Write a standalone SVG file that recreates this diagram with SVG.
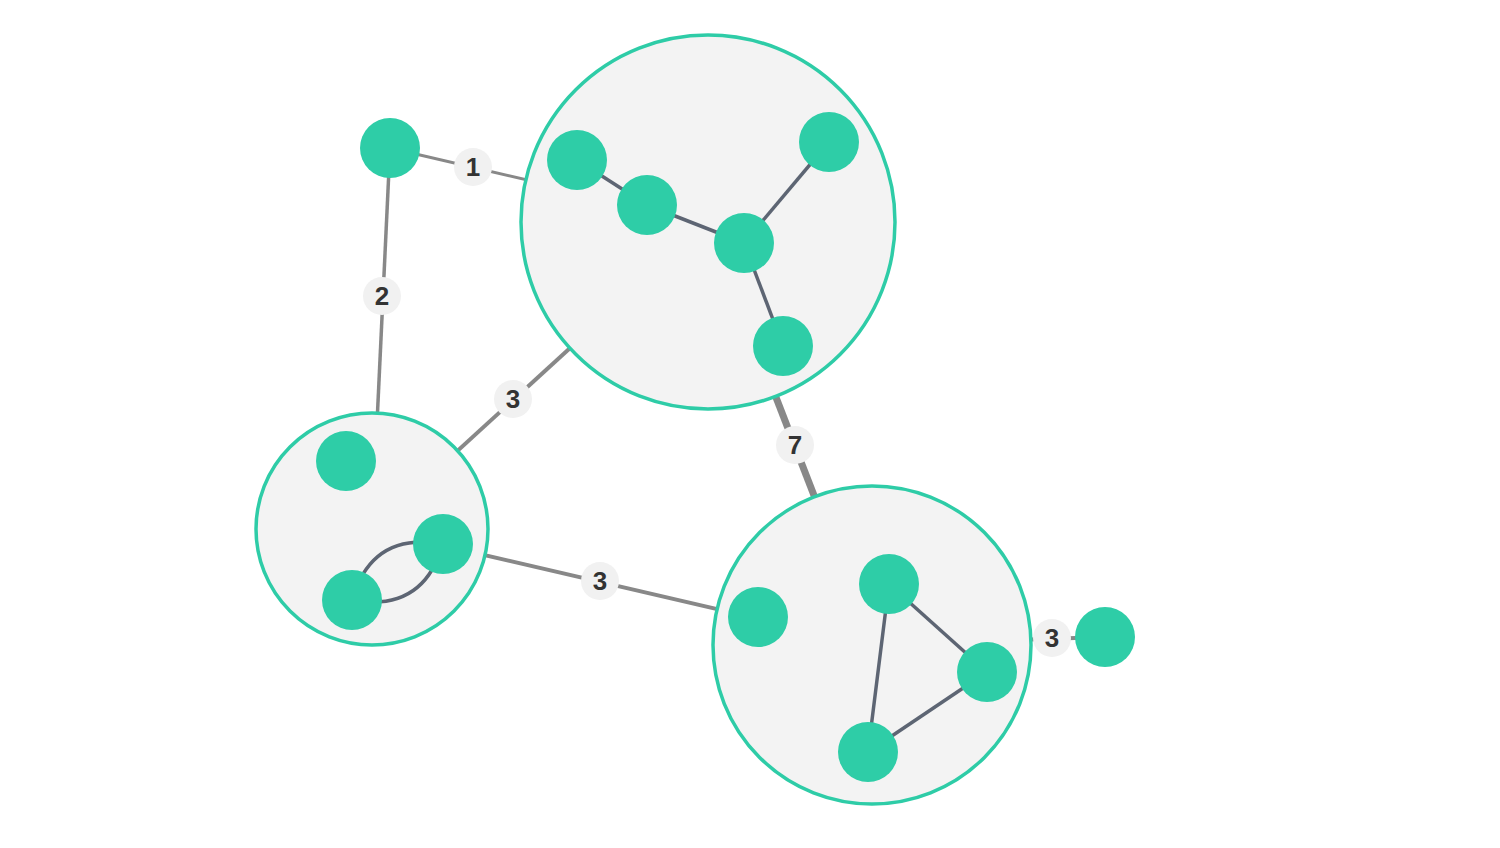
<svg xmlns="http://www.w3.org/2000/svg" width="1500" height="848" viewBox="0 0 1500 848">
<style>
.bg{fill:#ffffff}
.cluster{fill:#f3f3f3;stroke:#2ecca7;stroke-width:3.5}
.node{fill:#2ecda7}
.outer{stroke:#888888;fill:none;stroke-linecap:butt}
.inner{stroke:#5d6573;stroke-width:3.5;fill:none}
.lbl{fill:#f1f1f1}
.lt{font-family:"Liberation Sans",Arial,sans-serif;font-weight:bold;font-size:26px;fill:#333333;text-anchor:middle;dominant-baseline:central}
</style>
<rect class="bg" x="0" y="0" width="1500" height="848"/>
<g id="connectors">
<line class="outer" x1="390" y1="148" x2="708" y2="222" stroke-width="3"/>
<line class="outer" x1="390" y1="148" x2="372" y2="529" stroke-width="3.5"/>
<line class="outer" x1="372" y1="529" x2="708" y2="222" stroke-width="4"/>
<line class="outer" x1="708" y1="222" x2="872" y2="645" stroke-width="7"/>
<line class="outer" x1="372" y1="529" x2="872" y2="645" stroke-width="4"/>
<line class="outer" x1="872" y1="645" x2="1105" y2="637" stroke-width="4"/>
</g>
<g id="cluster-top">
<circle class="cluster" cx="708" cy="222" r="187"/>
<g id="top-edges">
<line class="inner" x1="577" y1="160" x2="647" y2="205"/>
<line class="inner" x1="647" y1="205" x2="744" y2="243"/>
<line class="inner" x1="744" y1="243" x2="829" y2="142"/>
<line class="inner" x1="744" y1="243" x2="783" y2="346"/>
</g>
<circle id="t1" class="node" cx="577" cy="160" r="30"/>
<circle id="t2" class="node" cx="647" cy="205" r="30"/>
<circle id="t3" class="node" cx="744" cy="243" r="30"/>
<circle id="t4" class="node" cx="829" cy="142" r="30"/>
<circle id="t5" class="node" cx="783" cy="346" r="30"/>
</g>
<g id="cluster-left">
<circle class="cluster" cx="372" cy="529" r="116"/>
<g id="left-edges">
<path class="inner" d="M352,600 Q372,531 443,544"/>
<path class="inner" d="M352,600 Q423,613 443,544"/>
</g>
<circle id="l1" class="node" cx="346" cy="461" r="30"/>
<circle id="l2" class="node" cx="443" cy="544" r="30"/>
<circle id="l3" class="node" cx="352" cy="600" r="30"/>
</g>
<g id="cluster-bottom">
<circle class="cluster" cx="872" cy="645" r="159"/>
<g id="bottom-edges">
<line class="inner" x1="889" y1="584" x2="987" y2="672"/>
<line class="inner" x1="987" y1="672" x2="868" y2="752"/>
<line class="inner" x1="868" y1="752" x2="889" y2="584"/>
</g>
<circle id="b1" class="node" cx="758" cy="617" r="30"/>
<circle id="b2" class="node" cx="889" cy="584" r="30"/>
<circle id="b3" class="node" cx="987" cy="672" r="30"/>
<circle id="b4" class="node" cx="868" cy="752" r="30"/>
</g>
<g id="node-a"><circle class="node" cx="390" cy="148" r="30"/></g>
<g id="node-b"><circle class="node" cx="1105" cy="637" r="30"/></g>
<g id="labels">
<circle class="lbl" cx="473" cy="167" r="19"/><text class="lt" x="473" y="167">1</text>
<circle class="lbl" cx="382" cy="296" r="19"/><text class="lt" x="382" y="296">2</text>
<circle class="lbl" cx="513" cy="399" r="19"/><text class="lt" x="513" y="399">3</text>
<circle class="lbl" cx="795" cy="445" r="19"/><text class="lt" x="795" y="445">7</text>
<circle class="lbl" cx="600" cy="581" r="19"/><text class="lt" x="600" y="581">3</text>
<circle class="lbl" cx="1052" cy="638" r="19"/><text class="lt" x="1052" y="638">3</text>
</g>
</svg>
